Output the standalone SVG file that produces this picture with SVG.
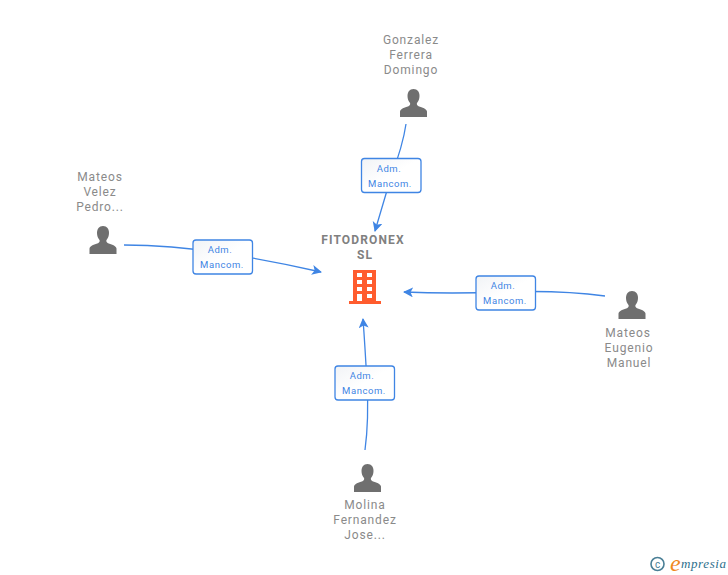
<svg xmlns="http://www.w3.org/2000/svg" width="728" height="575" viewBox="0 0 728 575">
<style>
text{font-family:"Roboto","Liberation Sans",Arial,sans-serif}
.n{font-size:12px;fill:#8a8a8a;text-anchor:middle;letter-spacing:.85px}
.t{font-size:12px;font-weight:700;fill:#808080;text-anchor:middle;letter-spacing:1.15px}
.l{font-size:9.5px;fill:#3f85e4;text-anchor:middle;letter-spacing:.55px}
.c{fill:none;stroke:#3f85e4;stroke-width:1.3}
.b{fill:url(#g);stroke:#3f85e4;stroke-width:1.3}
.p{fill:#6f6f6f}
</style>
<defs>
<linearGradient id="g" x1="0" y1="0" x2="1" y2="1"><stop offset="0" stop-color="#f1f3f6"/><stop offset=".5" stop-color="#fff"/></linearGradient>
<marker id="a" markerWidth="12" markerHeight="12" refX="9" refY="5" orient="auto" markerUnits="userSpaceOnUse"><path d="M0 0L10 5L0 10L2.500 5Z" fill="#3f85e4"/></marker>
<path id="person" d="M0-15c-4 0-6 3-6 7 0 3 1 5 2.500 7 .5 1 0 2.500-1.500 3.200C-9 3.500-13 4.500-13.500 7.500V13H13.500V7.500C13 4.500 9 3.500 5 2.200 3.500 1.500 3 0 3.500-1 5-3 6-5 6-8 6-12 4-15 0-15Z"/>
</defs>
<g id="connectors">
<path class="c" marker-end="url(#a)" d="M406 124Q403 145 391 177L375 231"/>
<path class="c" marker-end="url(#a)" d="M124 245Q170 245 222 253T321 272"/>
<path class="c" marker-end="url(#a)" d="M605 296Q560 290 505 292T404 292"/>
<path class="c" marker-end="url(#a)" d="M365 450Q369 420 367 383T363 319"/>
</g>
<g id="edge-top"><rect class="b" x="361.500" y="158.500" width="59.500" height="34" rx="3"/><text class="l" x="389" y="172">Adm.</text><text class="l" x="390" y="187">Mancom.</text></g>
<g id="edge-left"><rect class="b" x="193" y="240" width="59.500" height="34" rx="3"/><text class="l" x="220" y="253">Adm.</text><text class="l" x="222" y="268">Mancom.</text></g>
<g id="edge-right"><rect class="b" x="476" y="276" width="59.500" height="34" rx="3"/><text class="l" x="503" y="289">Adm.</text><text class="l" x="505" y="304">Mancom.</text></g>
<g id="edge-bottom"><rect class="b" x="335" y="366" width="59.500" height="34" rx="3"/><text class="l" x="362" y="379">Adm.</text><text class="l" x="364" y="394">Mancom.</text></g>
<g id="center">
<text class="t" x="363" y="244">FITODRONEX</text><text class="t" x="365" y="259">SL</text>
<path fill="#ff5c2e" fill-rule="evenodd" d="M353 270H376V301H381V304H349V301H353ZM357 273V277H362V273ZM367 273V277H372V273ZM357 280V284H362V280ZM367 280V284H372V280ZM357 287V291H362V287ZM367 287V291H372V287ZM357 294V301H362V294ZM367 294V298H372V294Z"/>
</g>
<g id="person-top"><text class="n" x="411" y="44">Gonzalez</text><text class="n" x="411" y="59">Ferrera</text><text class="n" x="411" y="74">Domingo</text><use href="#person" class="p" x="413.500" y="104"/></g>
<g id="person-left"><text class="n" x="100" y="181">Mateos</text><text class="n" x="100" y="196">Velez</text><text class="n" x="100" y="211">Pedro...</text><use href="#person" class="p" x="103" y="241"/></g>
<g id="person-right"><text class="n" x="628" y="337">Mateos</text><text class="n" x="629" y="352">Eugenio</text><text class="n" x="629" y="367">Manuel</text><use href="#person" class="p" x="632" y="306"/></g>
<g id="person-bottom"><text class="n" x="365" y="509">Molina</text><text class="n" x="365" y="524">Fernandez</text><text class="n" x="365" y="539">Jose...</text><use href="#person" class="p" x="367.500" y="479"/></g>
<g id="brand">
<circle cx="657.500" cy="564" r="6.500" fill="none" stroke="#4a7f96" stroke-width="1.600"/>
<text x="657.500" y="567.500" font-size="10" fill="#4a7f96" text-anchor="middle">c</text>
<text x="670" y="571" font-size="24" fill="#f08a1d" style="font-family:'Liberation Serif',serif;font-style:italic">e</text>
<text x="681" y="568" font-size="13" fill="#2d6f8c" style="font-family:'Liberation Serif',serif;font-style:italic;letter-spacing:.6px">mpresia</text>
</g>
</svg>
